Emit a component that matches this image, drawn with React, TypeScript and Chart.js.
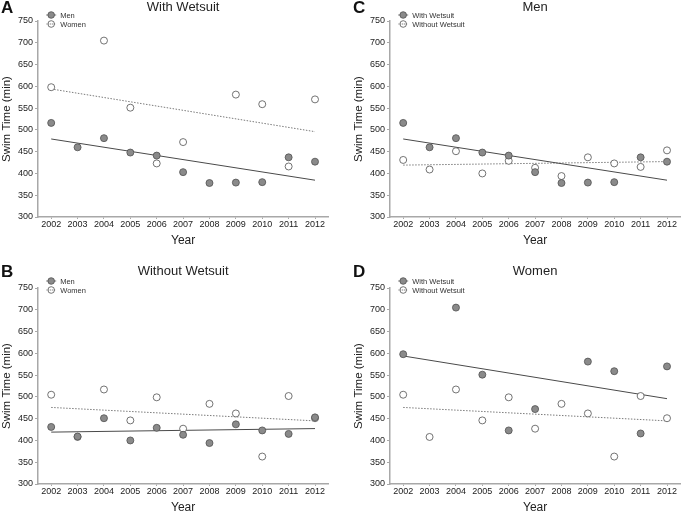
import React, { useEffect, useRef } from "react";
import { Chart, registerables } from "chart.js";

Chart.register(...registerables);

const YEARS = [2002, 2003, 2004, 2005, 2006, 2007, 2008, 2009, 2010, 2011, 2012];
const MEN_WITH = [516, 460, 481, 448, 441, 403, 378, 379, 380, 437, 427];
const WOMEN_WITH: (number | null)[] = [598, null, 705, 551, 423, 472, null, 581, 559, 416, 570];
const MEN_WITHOUT = [431, 409, 451, 400, 429, 413, 394, 437, 423, 415, 453];
const WOMEN_WITHOUT = [505, 408, 517, 446, 499, 427, 484, 462, 363, 502, 451];
const Y_MIN = 300;
const Y_MAX = 750;
const Y_STEP = 50;

const PANELS = [
  { letter: "A", title: "With Wetsuit", legend: ["Men", "Women"], filled: MEN_WITH, open: WOMEN_WITH },
  { letter: "B", title: "Without Wetsuit", legend: ["Men", "Women"], filled: MEN_WITHOUT, open: WOMEN_WITHOUT },
  { letter: "C", title: "Men", legend: ["With Wetsuit", "Without Wetsuit"], filled: MEN_WITH, open: MEN_WITHOUT },
  { letter: "D", title: "Women", legend: ["With Wetsuit", "Without Wetsuit"], filled: WOMEN_WITH, open: WOMEN_WITHOUT },
];

const LAYOUT = [
  { left: 0, top: 0, padTop: 21, padBottom: 9, titleY: 7.5, legendY: 15 },
  { left: 0, top: 258, padTop: 30, padBottom: 0, titleY: 13.5, legendY: 23 },
  { left: 352, top: 0, padTop: 21, padBottom: 9, titleY: 7.5, legendY: 15 },
  { left: 352, top: 258, padTop: 30, padBottom: 0, titleY: 13.5, legendY: 23 },
];

const W = 333;
const H = 258;
const FONT = '"Liberation Sans", Arial, Helvetica, sans-serif';
const AXIS_COLOR = "#a8a8a8";
const FILL_GRAY = "#8a8a8a";
const EDGE = "#505050";

function toPoints(values: (number | null)[]) {
  return YEARS.map((x, i) => ({ x, y: values[i] })).filter((p) => p.y != null) as { x: number; y: number }[];
}

function regression(values: (number | null)[]) {
  const pts = toPoints(values);
  const n = pts.length;
  const mx = pts.reduce((s, p) => s + p.x, 0) / n;
  const my = pts.reduce((s, p) => s + p.y, 0) / n;
  let sxy = 0;
  let sxx = 0;
  pts.forEach((p) => {
    sxy += (p.x - mx) * (p.y - my);
    sxx += (p.x - mx) * (p.x - mx);
  });
  const b = sxy / sxx;
  const a = my - b * mx;
  const x0 = YEARS[0];
  const x1 = YEARS[YEARS.length - 1];
  return [
    { x: x0, y: a + b * x0 },
    { x: x1, y: a + b * x1 },
  ];
}

const decorPlugin = {
  id: "decor",
  afterDraw(chart: any, _args: any, opts: any) {
    const { ctx, chartArea } = chart;
    ctx.save();
    ctx.textBaseline = "middle";
    ctx.fillStyle = "#111";
    ctx.textAlign = "left";
    ctx.font = `bold 17px ${FONT}`;
    ctx.fillText(opts.letter, 1, opts.titleY + 0.5);
    ctx.font = `13px ${FONT}`;
    ctx.textAlign = "center";
    ctx.fillStyle = "#222";
    ctx.fillText(opts.title, (chartArea.left + chartArea.right) / 2, opts.titleY);

    const x0 = chart.scales.x.getPixelForValue(YEARS[0]);
    opts.items.forEach((label: string, i: number) => {
      const y = opts.legendY + i * 9;
      const filled = i === 0;
      ctx.beginPath();
      ctx.setLineDash(filled ? [] : [1, 1]);
      ctx.strokeStyle = filled ? "#555" : "#888";
      ctx.lineWidth = 0.8;
      ctx.moveTo(x0 - 5, y);
      ctx.lineTo(x0 + 5, y);
      ctx.stroke();
      ctx.setLineDash([]);
      ctx.beginPath();
      ctx.arc(x0, y, 3.3, 0, Math.PI * 2);
      if (filled) {
        ctx.fillStyle = FILL_GRAY;
        ctx.fill();
      }
      ctx.strokeStyle = EDGE;
      ctx.lineWidth = 0.8;
      ctx.stroke();
      if (!filled) {
        ctx.beginPath();
        ctx.setLineDash([1, 1]);
        ctx.strokeStyle = "#888";
        ctx.moveTo(x0 - 3, y);
        ctx.lineTo(x0 + 3, y);
        ctx.stroke();
        ctx.setLineDash([]);
      }
      ctx.fillStyle = "#333";
      ctx.textAlign = "left";
      ctx.font = `7.5px ${FONT}`;
      ctx.fillText(label, x0 + 9, y + 0.5);
    });
    ctx.restore();
  },
};

function Panel({ index }: { index: number }) {
  const ref = useRef<HTMLCanvasElement>(null);
  const panel = PANELS[index];
  const lay = LAYOUT[index];

  useEffect(() => {
    if (!ref.current) return;
    const chart = new Chart(ref.current, {
      type: "scatter",
      data: {
        datasets: [
          {
            label: panel.legend[0],
            data: toPoints(panel.filled),
            pointRadius: 3.5,
            pointBackgroundColor: FILL_GRAY,
            pointBorderColor: EDGE,
            pointBorderWidth: 0.8,
            order: 0,
          },
          {
            label: panel.legend[1],
            data: toPoints(panel.open),
            pointRadius: 3.5,
            pointBackgroundColor: "#ffffff",
            pointBorderColor: EDGE,
            pointBorderWidth: 0.8,
            order: 1,
          },
          {
            label: panel.legend[0] + " trend",
            data: regression(panel.filled),
            showLine: true,
            pointRadius: 0,
            borderColor: "#4a4a4a",
            borderWidth: 1,
            order: 2,
          },
          {
            label: panel.legend[1] + " trend",
            data: regression(panel.open),
            showLine: true,
            pointRadius: 0,
            borderColor: "#7a7a7a",
            borderWidth: 1,
            borderDash: [1.5, 1.5],
            order: 3,
          },
        ],
      } as any,
      options: {
        animation: false,
        responsive: false,
        devicePixelRatio: 1,
        layout: { padding: { top: lay.padTop, right: 0, bottom: lay.padBottom, left: 0 } },
        plugins: {
          legend: { display: false },
          tooltip: { enabled: false },
          decor: {
            letter: panel.letter,
            title: panel.title,
            items: panel.legend,
            titleY: lay.titleY,
            legendY: lay.legendY,
          },
        } as any,
        scales: {
          x: {
            type: "linear",
            min: YEARS[0] - 0.5,
            max: YEARS[YEARS.length - 1] + 0.5,
            afterBuildTicks: (s: any) => {
              s.ticks = YEARS.map((v) => ({ value: v }));
            },
            afterFit: (s: any) => {
              s.height = 32;
            },
            ticks: {
              callback: (v: any) => String(v),
              font: { family: FONT, size: 9 },
              color: "#222",
              padding: 0,
              maxRotation: 0,
              autoSkip: false,
            },
            grid: { display: true, drawOnChartArea: false, drawTicks: true, tickLength: 2, color: AXIS_COLOR },
            border: { display: true, color: AXIS_COLOR, width: 1.5 },
            title: {
              display: true,
              text: "Year",
              font: { family: FONT, size: 12 },
              color: "#222",
              padding: { top: 0, bottom: 1 },
            },
          },
          y: {
            type: "linear",
            min: Y_MIN,
            max: Y_MAX,
            afterFit: (s: any) => {
              s.width = 38;
            },
            ticks: {
              stepSize: Y_STEP,
              callback: (v: any) => String(v),
              font: { family: FONT, size: 9 },
              color: "#222",
              padding: 2,
            },
            grid: { display: true, drawOnChartArea: false, drawTicks: true, tickLength: 3, color: AXIS_COLOR },
            border: { display: true, color: AXIS_COLOR, width: 1.5 },
            title: {
              display: true,
              text: "Swim Time (min)",
              font: { family: FONT, size: 11.5 },
              color: "#222",
              padding: { top: 0, bottom: 0 },
            },
          },
        },
      } as any,
      plugins: [decorPlugin],
    });
    return () => chart.destroy();
  }, [index]);

  return (
    <canvas
      ref={ref}
      width={W}
      height={H}
      style={{ position: "absolute", left: lay.left, top: lay.top, width: W, height: H }}
    />
  );
}

export default function App() {
  return (
    <div style={{ position: "absolute", left: 0, top: 0, width: 685, height: 516, background: "#fff", overflow: "hidden" }}>
      {PANELS.map((_, i) => (
        <Panel key={i} index={i} />
      ))}
    </div>
  );
}
